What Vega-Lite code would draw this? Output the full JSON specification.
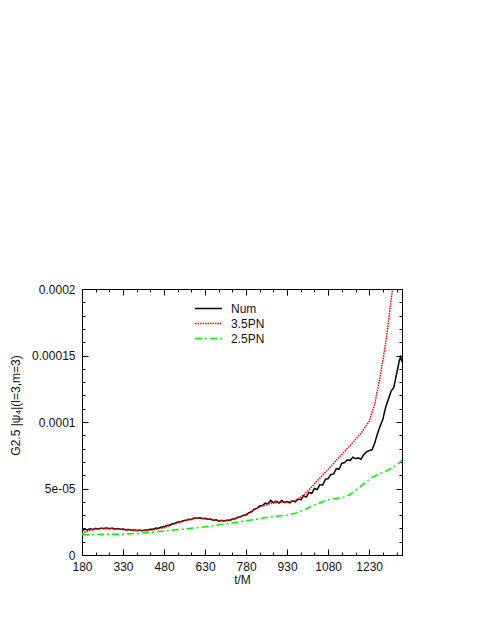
{
  "$schema": "https://vega.github.io/schema/vega-lite/v6.json",
  "width": 320,
  "height": 266,
  "autosize": {"type": "none"},
  "padding": {"left": 82, "top": 289, "right": 83, "bottom": 72},
  "background": "white",
  "config": {
    "view": {"stroke": "#000", "strokeWidth": 1},
    "font": "Liberation Sans",
    "axis": {
      "grid": false,
      "domain": false,
      "tickColor": "#000",
      "tickWidth": 1,
      "labelColor": "#111",
      "labelFont": "Liberation Sans",
      "labelFontSize": 12,
      "labelFlush": false,
      "labelOverlap": false,
      "titleFont": "Liberation Sans",
      "titleFontSize": 12,
      "titleFontWeight": "normal",
      "titleColor": "#111"
    }
  },
  "data": {
    "values": [
      {"t": 180, "v": 1.80e-5, "s": "Num"},
      {"t": 190, "v": 1.95e-5, "s": "Num"},
      {"t": 200, "v": 1.88e-5, "s": "Num"},
      {"t": 210, "v": 1.98e-5, "s": "Num"},
      {"t": 220, "v": 1.92e-5, "s": "Num"},
      {"t": 230, "v": 2.00e-5, "s": "Num"},
      {"t": 240, "v": 1.95e-5, "s": "Num"},
      {"t": 250, "v": 2.02e-5, "s": "Num"},
      {"t": 260, "v": 1.98e-5, "s": "Num"},
      {"t": 270, "v": 2.03e-5, "s": "Num"},
      {"t": 280, "v": 1.98e-5, "s": "Num"},
      {"t": 290, "v": 2.02e-5, "s": "Num"},
      {"t": 300, "v": 1.96e-5, "s": "Num"},
      {"t": 310, "v": 1.99e-5, "s": "Num"},
      {"t": 320, "v": 1.93e-5, "s": "Num"},
      {"t": 330, "v": 1.95e-5, "s": "Num"},
      {"t": 340, "v": 1.90e-5, "s": "Num"},
      {"t": 350, "v": 1.92e-5, "s": "Num"},
      {"t": 360, "v": 1.86e-5, "s": "Num"},
      {"t": 370, "v": 1.88e-5, "s": "Num"},
      {"t": 380, "v": 1.84e-5, "s": "Num"},
      {"t": 390, "v": 1.87e-5, "s": "Num"},
      {"t": 400, "v": 1.83e-5, "s": "Num"},
      {"t": 410, "v": 1.88e-5, "s": "Num"},
      {"t": 420, "v": 1.87e-5, "s": "Num"},
      {"t": 430, "v": 1.94e-5, "s": "Num"},
      {"t": 440, "v": 1.93e-5, "s": "Num"},
      {"t": 450, "v": 2.02e-5, "s": "Num"},
      {"t": 460, "v": 2.00e-5, "s": "Num"},
      {"t": 470, "v": 2.10e-5, "s": "Num"},
      {"t": 480, "v": 2.12e-5, "s": "Num"},
      {"t": 490, "v": 2.22e-5, "s": "Num"},
      {"t": 500, "v": 2.24e-5, "s": "Num"},
      {"t": 510, "v": 2.35e-5, "s": "Num"},
      {"t": 520, "v": 2.38e-5, "s": "Num"},
      {"t": 530, "v": 2.48e-5, "s": "Num"},
      {"t": 540, "v": 2.50e-5, "s": "Num"},
      {"t": 550, "v": 2.58e-5, "s": "Num"},
      {"t": 560, "v": 2.60e-5, "s": "Num"},
      {"t": 570, "v": 2.68e-5, "s": "Num"},
      {"t": 580, "v": 2.67e-5, "s": "Num"},
      {"t": 590, "v": 2.78e-5, "s": "Num"},
      {"t": 600, "v": 2.76e-5, "s": "Num"},
      {"t": 610, "v": 2.80e-5, "s": "Num"},
      {"t": 620, "v": 2.74e-5, "s": "Num"},
      {"t": 630, "v": 2.76e-5, "s": "Num"},
      {"t": 640, "v": 2.68e-5, "s": "Num"},
      {"t": 650, "v": 2.70e-5, "s": "Num"},
      {"t": 660, "v": 2.62e-5, "s": "Num"},
      {"t": 670, "v": 2.64e-5, "s": "Num"},
      {"t": 680, "v": 2.56e-5, "s": "Num"},
      {"t": 690, "v": 2.60e-5, "s": "Num"},
      {"t": 700, "v": 2.55e-5, "s": "Num"},
      {"t": 710, "v": 2.62e-5, "s": "Num"},
      {"t": 720, "v": 2.60e-5, "s": "Num"},
      {"t": 730, "v": 2.70e-5, "s": "Num"},
      {"t": 740, "v": 2.72e-5, "s": "Num"},
      {"t": 750, "v": 2.85e-5, "s": "Num"},
      {"t": 760, "v": 2.88e-5, "s": "Num"},
      {"t": 770, "v": 2.98e-5, "s": "Num"},
      {"t": 780, "v": 3.00e-5, "s": "Num"},
      {"t": 790, "v": 3.18e-5, "s": "Num"},
      {"t": 800, "v": 3.25e-5, "s": "Num"},
      {"t": 810, "v": 3.45e-5, "s": "Num"},
      {"t": 820, "v": 3.50e-5, "s": "Num"},
      {"t": 830, "v": 3.70e-5, "s": "Num"},
      {"t": 840, "v": 3.72e-5, "s": "Num"},
      {"t": 850, "v": 3.90e-5, "s": "Num"},
      {"t": 860, "v": 3.85e-5, "s": "Num"},
      {"t": 870, "v": 4.12e-5, "s": "Num"},
      {"t": 880, "v": 3.92e-5, "s": "Num"},
      {"t": 890, "v": 4.05e-5, "s": "Num"},
      {"t": 900, "v": 3.90e-5, "s": "Num"},
      {"t": 910, "v": 4.10e-5, "s": "Num"},
      {"t": 920, "v": 3.95e-5, "s": "Num"},
      {"t": 930, "v": 4.02e-5, "s": "Num"},
      {"t": 940, "v": 3.92e-5, "s": "Num"},
      {"t": 950, "v": 4.08e-5, "s": "Num"},
      {"t": 960, "v": 4.00e-5, "s": "Num"},
      {"t": 970, "v": 4.20e-5, "s": "Num"},
      {"t": 980, "v": 4.15e-5, "s": "Num"},
      {"t": 990, "v": 4.45e-5, "s": "Num"},
      {"t": 1000, "v": 4.35e-5, "s": "Num"},
      {"t": 1010, "v": 4.70e-5, "s": "Num"},
      {"t": 1020, "v": 4.62e-5, "s": "Num"},
      {"t": 1030, "v": 5.00e-5, "s": "Num"},
      {"t": 1040, "v": 4.92e-5, "s": "Num"},
      {"t": 1050, "v": 5.30e-5, "s": "Num"},
      {"t": 1060, "v": 5.25e-5, "s": "Num"},
      {"t": 1070, "v": 5.70e-5, "s": "Num"},
      {"t": 1080, "v": 5.75e-5, "s": "Num"},
      {"t": 1090, "v": 6.05e-5, "s": "Num"},
      {"t": 1100, "v": 6.10e-5, "s": "Num"},
      {"t": 1110, "v": 6.50e-5, "s": "Num"},
      {"t": 1120, "v": 6.45e-5, "s": "Num"},
      {"t": 1130, "v": 6.90e-5, "s": "Num"},
      {"t": 1140, "v": 6.95e-5, "s": "Num"},
      {"t": 1150, "v": 7.15e-5, "s": "Num"},
      {"t": 1160, "v": 7.10e-5, "s": "Num"},
      {"t": 1170, "v": 7.35e-5, "s": "Num"},
      {"t": 1180, "v": 7.25e-5, "s": "Num"},
      {"t": 1190, "v": 7.30e-5, "s": "Num"},
      {"t": 1200, "v": 7.20e-5, "s": "Num"},
      {"t": 1210, "v": 7.55e-5, "s": "Num"},
      {"t": 1220, "v": 7.75e-5, "s": "Num"},
      {"t": 1230, "v": 7.85e-5, "s": "Num"},
      {"t": 1240, "v": 7.90e-5, "s": "Num"},
      {"t": 1250, "v": 8.40e-5, "s": "Num"},
      {"t": 1260, "v": 9.10e-5, "s": "Num"},
      {"t": 1270, "v": 9.70e-5, "s": "Num"},
      {"t": 1280, "v": 10.20e-5, "s": "Num"},
      {"t": 1290, "v": 11.10e-5, "s": "Num"},
      {"t": 1300, "v": 11.70e-5, "s": "Num"},
      {"t": 1310, "v": 12.30e-5, "s": "Num"},
      {"t": 1320, "v": 12.60e-5, "s": "Num"},
      {"t": 1330, "v": 13.60e-5, "s": "Num"},
      {"t": 1340, "v": 14.60e-5, "s": "Num"},
      {"t": 1345, "v": 14.90e-5, "s": "Num"},
      {"t": 1350, "v": 14.50e-5, "s": "Num"},

      {"t": 180, "v": 1.62e-5, "s": "3.5PN"},
      {"t": 200, "v": 1.80e-5, "s": "3.5PN"},
      {"t": 230, "v": 1.95e-5, "s": "3.5PN"},
      {"t": 260, "v": 2.00e-5, "s": "3.5PN"},
      {"t": 300, "v": 1.97e-5, "s": "3.5PN"},
      {"t": 350, "v": 1.88e-5, "s": "3.5PN"},
      {"t": 400, "v": 1.82e-5, "s": "3.5PN"},
      {"t": 440, "v": 1.88e-5, "s": "3.5PN"},
      {"t": 480, "v": 2.05e-5, "s": "3.5PN"},
      {"t": 520, "v": 2.35e-5, "s": "3.5PN"},
      {"t": 560, "v": 2.62e-5, "s": "3.5PN"},
      {"t": 600, "v": 2.77e-5, "s": "3.5PN"},
      {"t": 640, "v": 2.70e-5, "s": "3.5PN"},
      {"t": 680, "v": 2.58e-5, "s": "3.5PN"},
      {"t": 710, "v": 2.58e-5, "s": "3.5PN"},
      {"t": 750, "v": 2.80e-5, "s": "3.5PN"},
      {"t": 790, "v": 3.15e-5, "s": "3.5PN"},
      {"t": 830, "v": 3.62e-5, "s": "3.5PN"},
      {"t": 870, "v": 3.90e-5, "s": "3.5PN"},
      {"t": 900, "v": 3.95e-5, "s": "3.5PN"},
      {"t": 930, "v": 3.98e-5, "s": "3.5PN"},
      {"t": 960, "v": 4.10e-5, "s": "3.5PN"},
      {"t": 990, "v": 4.50e-5, "s": "3.5PN"},
      {"t": 1020, "v": 5.12e-5, "s": "3.5PN"},
      {"t": 1050, "v": 5.80e-5, "s": "3.5PN"},
      {"t": 1080, "v": 6.45e-5, "s": "3.5PN"},
      {"t": 1110, "v": 7.12e-5, "s": "3.5PN"},
      {"t": 1140, "v": 7.78e-5, "s": "3.5PN"},
      {"t": 1170, "v": 8.45e-5, "s": "3.5PN"},
      {"t": 1200, "v": 9.15e-5, "s": "3.5PN"},
      {"t": 1230, "v": 10.05e-5, "s": "3.5PN"},
      {"t": 1250, "v": 11.30e-5, "s": "3.5PN"},
      {"t": 1270, "v": 13.40e-5, "s": "3.5PN"},
      {"t": 1290, "v": 15.90e-5, "s": "3.5PN"},
      {"t": 1300, "v": 17.40e-5, "s": "3.5PN"},
      {"t": 1310, "v": 19.20e-5, "s": "3.5PN"},
      {"t": 1316, "v": 20.00e-5, "s": "3.5PN"},

      {"t": 180, "v": 1.52e-5, "s": "2.5PN"},
      {"t": 250, "v": 1.55e-5, "s": "2.5PN"},
      {"t": 330, "v": 1.56e-5, "s": "2.5PN"},
      {"t": 400, "v": 1.65e-5, "s": "2.5PN"},
      {"t": 480, "v": 1.80e-5, "s": "2.5PN"},
      {"t": 550, "v": 1.95e-5, "s": "2.5PN"},
      {"t": 612, "v": 2.08e-5, "s": "2.5PN"},
      {"t": 660, "v": 2.20e-5, "s": "2.5PN"},
      {"t": 700, "v": 2.33e-5, "s": "2.5PN"},
      {"t": 740, "v": 2.45e-5, "s": "2.5PN"},
      {"t": 780, "v": 2.58e-5, "s": "2.5PN"},
      {"t": 830, "v": 2.73e-5, "s": "2.5PN"},
      {"t": 870, "v": 2.88e-5, "s": "2.5PN"},
      {"t": 930, "v": 3.00e-5, "s": "2.5PN"},
      {"t": 960, "v": 3.15e-5, "s": "2.5PN"},
      {"t": 990, "v": 3.38e-5, "s": "2.5PN"},
      {"t": 1020, "v": 3.68e-5, "s": "2.5PN"},
      {"t": 1050, "v": 3.93e-5, "s": "2.5PN"},
      {"t": 1080, "v": 4.15e-5, "s": "2.5PN"},
      {"t": 1110, "v": 4.25e-5, "s": "2.5PN"},
      {"t": 1140, "v": 4.35e-5, "s": "2.5PN"},
      {"t": 1160, "v": 4.55e-5, "s": "2.5PN"},
      {"t": 1180, "v": 4.85e-5, "s": "2.5PN"},
      {"t": 1210, "v": 5.35e-5, "s": "2.5PN"},
      {"t": 1240, "v": 5.82e-5, "s": "2.5PN"},
      {"t": 1270, "v": 6.12e-5, "s": "2.5PN"},
      {"t": 1300, "v": 6.40e-5, "s": "2.5PN"},
      {"t": 1330, "v": 6.75e-5, "s": "2.5PN"},
      {"t": 1350, "v": 7.10e-5, "s": "2.5PN"}
    ]
  },
  "layer": [
    {
      "mark": {"type": "line", "clip": true, "strokeWidth": 1.5},
      "encoding": {
        "x": {
          "field": "t", "type": "quantitative",
          "scale": {"domain": [180, 1350], "nice": false, "zero": false},
          "axis": {
            "orient": "bottom",
            "values": [180, 330, 480, 630, 780, 930, 1080, 1230],
            "format": "d",
            "tickSize": -6,
            "labelPadding": 12,
            "title": "t/M",
            "titlePadding": 2
          }
        },
        "y": {
          "field": "v", "type": "quantitative",
          "scale": {"domain": [0, 0.0002], "nice": false, "zero": true},
          "axis": {
            "orient": "left",
            "values": [0, 0.00005, 0.0001, 0.00015, 0.0002],
            "labelExpr": "datum.value < 0.000001 ? '0' : datum.value < 0.00006 ? '5e-05' : datum.value < 0.00011 ? '0.0001' : datum.value < 0.00016 ? '0.00015' : '0.0002'",
            "tickSize": -6,
            "labelPadding": 13,
            "title": "G2.5 |ψ₄|(l=3,m=3)",
            "titleX": -60,
            "titleY": 116
          }
        },
        "color": {
          "field": "s", "type": "nominal",
          "scale": {"domain": ["Num", "3.5PN", "2.5PN"], "range": ["#000000", "#ff0000", "#00ee00"]},
          "legend": {
            "orient": "none", "legendX": 119, "legendY": 12, "title": null,
            "symbolType": "M-2,0H2", "symbolSize": 182, "symbolStrokeWidth": 1.5,
            "labelFontSize": 12, "labelFont": "Liberation Sans", "labelColor": "#111",
            "labelOffset": 15, "rowPadding": 1
          }
        },
        "strokeDash": {
          "field": "s", "type": "nominal",
          "scale": {"domain": ["Num", "3.5PN", "2.5PN"], "range": [[1, 0], [1.5, 1], [7, 3, 2, 3]]},
          "legend": {
            "orient": "none", "legendX": 119, "legendY": 12, "title": null,
            "symbolType": "M-2,0H2", "symbolSize": 182, "symbolStrokeWidth": 1.5,
            "labelFontSize": 12, "labelFont": "Liberation Sans", "labelColor": "#111",
            "labelOffset": 15, "rowPadding": 1
          }
        }
      }
    },
    {
      "mark": {"type": "point", "opacity": 0, "size": 0},
      "encoding": {
        "x": {
          "field": "t", "type": "quantitative",
          "scale": {"domain": [180, 1350], "nice": false, "zero": false},
          "axis": {"orient": "bottom", "values": [230, 280, 380, 430, 530, 580, 680, 730, 830, 880, 980, 1030, 1130, 1180, 1280, 1330], "tickSize": -3, "labels": false, "title": null}
        },
        "y": {
          "field": "v", "type": "quantitative",
          "scale": {"domain": [0, 0.0002], "nice": false},
          "axis": {"orient": "left", "values": [0.00001, 0.00002, 0.00003, 0.00004, 0.00006, 0.00007, 0.00008, 0.00009, 0.00011, 0.00012, 0.00013, 0.00014, 0.00016, 0.00017, 0.00018, 0.00019], "tickSize": -3, "labels": false, "title": null}
        }
      }
    },
    {
      "mark": {"type": "point", "opacity": 0, "size": 0},
      "encoding": {
        "x": {
          "field": "t", "type": "quantitative",
          "scale": {"domain": [180, 1350], "nice": false, "zero": false},
          "axis": {"orient": "top", "values": [180, 330, 480, 630, 780, 930, 1080, 1230], "tickSize": -6, "labels": false, "title": null}
        },
        "y": {
          "field": "v", "type": "quantitative",
          "scale": {"domain": [0, 0.0002], "nice": false},
          "axis": {"orient": "right", "values": [0, 0.00005, 0.0001, 0.00015, 0.0002], "tickSize": -6, "labels": false, "title": null}
        }
      }
    },
    {
      "mark": {"type": "point", "opacity": 0, "size": 0},
      "encoding": {
        "x": {
          "field": "t", "type": "quantitative",
          "scale": {"domain": [180, 1350], "nice": false, "zero": false},
          "axis": {"orient": "top", "values": [230, 280, 380, 430, 530, 580, 680, 730, 830, 880, 980, 1030, 1130, 1180, 1280, 1330], "tickSize": -3, "labels": false, "title": null}
        },
        "y": {
          "field": "v", "type": "quantitative",
          "scale": {"domain": [0, 0.0002], "nice": false},
          "axis": {"orient": "right", "values": [0.00001, 0.00002, 0.00003, 0.00004, 0.00006, 0.00007, 0.00008, 0.00009, 0.00011, 0.00012, 0.00013, 0.00014, 0.00016, 0.00017, 0.00018, 0.00019], "tickSize": -3, "labels": false, "title": null}
        }
      }
    }
  ],
  "resolve": {"axis": {"x": "independent", "y": "independent"}}
}
